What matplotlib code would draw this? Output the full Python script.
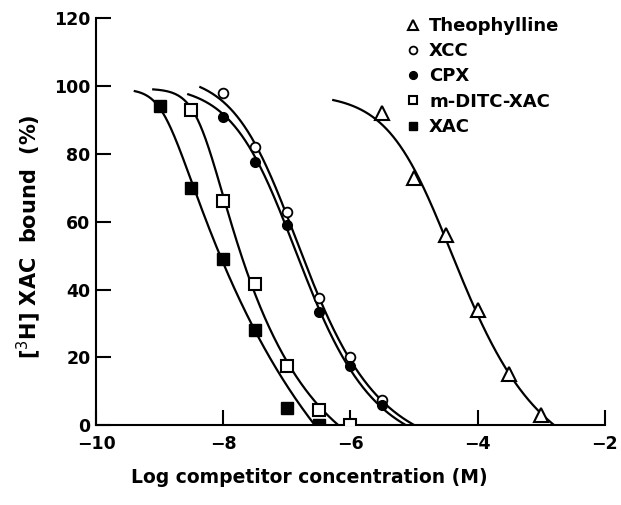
import numpy as np
import matplotlib
matplotlib.use("Agg")
import matplotlib.pyplot as plt

# measured points (log M, % [3H]XAC bound)
theo_x = [-5.5, -5.0, -4.5, -4.0, -3.5, -3.0]
theo_y = [92, 73, 56, 34, 15, 3]
xcc_x = [-8.0, -7.5, -7.0, -6.5, -6.0, -5.5]
xcc_y = [98, 82, 63, 37.5, 20, 7.5]
cpx_x = [-8.0, -7.5, -7.0, -6.5, -6.0, -5.5]
cpx_y = [91, 77.5, 59, 33.5, 17.5, 6]
ditc_x = [-8.5, -8.0, -7.5, -7.0, -6.5, -6.0]
ditc_y = [93, 66, 41.5, 17.5, 4.5, 0]
xac_x = [-9.0, -8.5, -8.0, -7.5, -7.0, -6.5]
xac_y = [94, 70, 49, 28, 5, 0]

# fitted competition curves, order: Theophylline, XCC, CPX, m-DITC-XAC, XAC
fit_top = [97.73, 103.70, 100.53, 99.23, 99.16]
fit_nsb = [14.89, 8.87, 8.45, 19.24, 56.91]
fit_k = [0.956, 0.949, 0.924, 2.504, 2.664]
fit_c = [-4.770, -7.142, -7.112, -8.348, -8.942]
fit_s = [0.464, 0.540, 0.603, 0.146, 0.069]
fit_start = [-6.27, -8.36, -8.55, -9.1, -9.39]


def curve(x, top, b, k, c, s):
    return (top + b) * (1 + 10 ** (k * (x - c))) ** (-s) - b


plt.rcParams['font.family'] = 'DejaVu Sans'
fig = plt.figure(figsize=(6.21, 5.05), dpi=100)
ax = fig.add_axes([0.1546, 0.158, 0.8194, 0.806])

for top, b, k, c, s, xs in zip(fit_top, fit_nsb, fit_k, fit_c, fit_s, fit_start):
    xx = np.linspace(xs, -1, 800)
    yy = curve(xx, top, b, k, c, s)
    keep = yy >= 0
    ax.plot(xx[keep], yy[keep], color='black', lw=1.6, zorder=2)

mk = dict(color='black', ls='none', zorder=3)
ax.plot(theo_x, theo_y, marker='^', ms=9.5, mfc='white', mew=1.5, label='Theophylline', **mk)
ax.plot(xcc_x, xcc_y, marker='o', ms=7, mfc='white', mew=1.3, label='XCC', **mk)
ax.plot(cpx_x, cpx_y, marker='o', ms=7, mfc='black', label='CPX', **mk)
ax.plot(ditc_x, ditc_y, marker='s', ms=8, mfc='white', mew=1.5, label='m-DITC-XAC', **mk)
ax.plot(xac_x, xac_y, marker='s', ms=8, mfc='black', label='XAC', **mk)

ax.set_xlim(-10, -2)
ax.set_ylim(0, 120)
ax.set_xticks([-10, -8, -6, -4, -2])
ax.set_yticks([0, 20, 40, 60, 80, 100, 120])
ax.spines['top'].set_visible(False)
ax.spines['right'].set_visible(False)
ax.spines['left'].set_linewidth(1.5)
ax.spines['bottom'].set_linewidth(1.5)
ax.tick_params(direction='in', length=11, width=1.5, labelsize=12.5)
ax.tick_params(axis='x', pad=7)
ax.tick_params(axis='y', pad=4)
for lab in ax.get_xticklabels() + ax.get_yticklabels():
    lab.set_fontweight('bold')

ax.set_xlabel('Log competitor concentration (M)', fontsize=13.5, fontweight='bold')
ax.xaxis.set_label_coords(0.42, -0.105)
ax.set_ylabel(r'[$^3$H] XAC  bound  (%)', fontsize=15, fontweight='bold')
ax.yaxis.set_label_coords(-0.105, 0.464)

ax.legend(loc='upper left', bbox_to_anchor=(0.605, 1.003), frameon=False,
          prop={'size': 13, 'weight': 'bold'}, handlelength=1.0, handletextpad=0.4,
          labelspacing=0.4, markerscale=0.8, borderaxespad=0, borderpad=0)

fig.savefig('out.png', dpi=100)
